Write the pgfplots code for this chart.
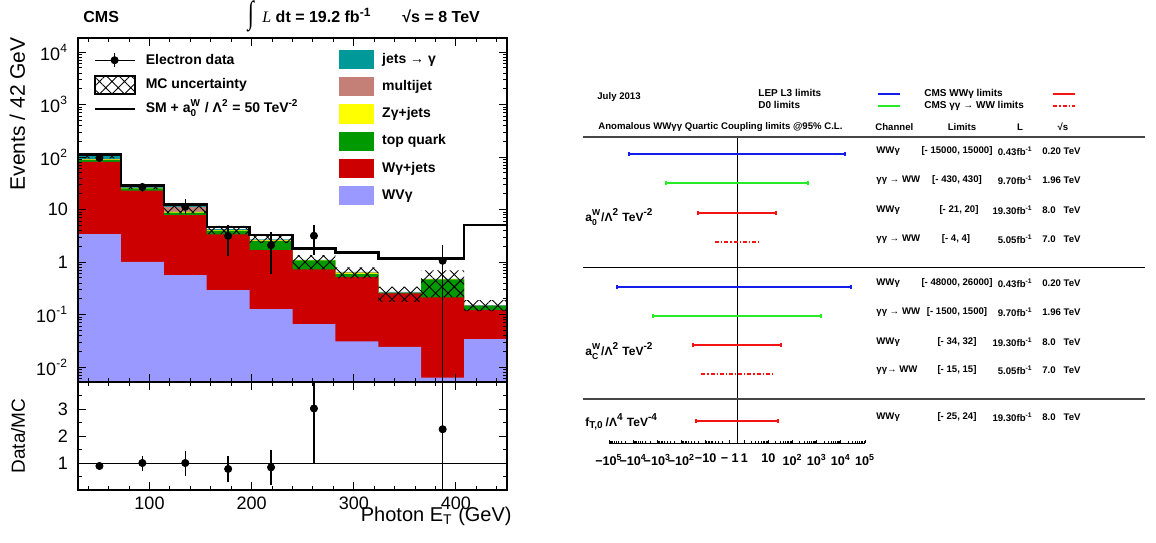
\documentclass[border=0pt]{standalone}
\usepackage{fontspec}
\setmainfont{Liberation Sans}
\newfontfamily\serif{Liberation Serif}
\usepackage{pgfplots}
\pgfplotsset{compat=1.18}
\usepackage{pgfplotstable}
\usetikzlibrary{patterns.meta}

\newcommand\fs[1]{\fontsize{#1}{#1}\selectfont}
% a with stacked W superscript and subscript, script size as optional argument
\newcommand\aW[2][5]{a$^{\mbox{\fs{#1}W}}_{\mbox{\fs{#1}#2}}$}

\definecolor{cjet}{RGB}{0,153,153}
\definecolor{cmj}{RGB}{196,128,118}
\definecolor{czg}{RGB}{255,255,0}
\definecolor{ctop}{RGB}{0,153,0}
\definecolor{cwg}{RGB}{204,0,0}
\definecolor{cwv}{RGB}{153,153,255}
\definecolor{lblue}{RGB}{20,30,235}
\definecolor{lgreen}{RGB}{40,235,40}
\definecolor{lred}{RGB}{245,20,20}

\tikzset{
  xhatch/.style={pattern={Hatch[angle=45,distance=4.4pt,line width=0.45pt]}},
}
\pgfplotsset{
  boxkey/.style={legend image code/.code={\fill[##1] (0pt,-4.75pt) rectangle (17.5pt,4.75pt);}},
  keyline/.style={legend image code/.code={\draw[##1] (0pt,0pt) -- (11pt,0pt);}},
}

% stacked MC: cumulative tops per bin (left edge); first/last rows close the areas below ymin
\pgfplotstableread{
x    wv     wg    tq    zg    mj    jt
30   0.001  0.001 0.001 0.001 0.001 0.001
30   3.41   81    89    91    92    104
72   1.01   23    25.3  25.8  26.2  27
114  0.565  7.9   8.8   9.1   11.3  11.8
156  0.293  3.37  4.0   4.05  4.1   4.25
198  0.127  1.69  2.5   2.6   2.62  2.7
240  0.066  0.726 1.08  1.09  1.095 1.10
282  0.031  0.52  0.6   0.63  0.635 0.65
324  0.0244 0.253 0.258 0.26  0.262 0.272
366  0.0063 0.213 0.47  0.472 0.474 0.48
408  0.034  0.122 0.145 0.147 0.148 0.152
450  0.034  0.122 0.145 0.147 0.148 0.152
450  0.001  0.001 0.001 0.001 0.001 0.001
}\stack

% SM + a0/Lambda^2 = 50 TeV^-2
\pgfplotstableread{
x    sm
30   112
72   29
114  12.6
156  4.7
198  3.27
240  1.82
282  1.53
324  1.17
366  1.17
408  5.07
450  5.07
}\smline

% MC uncertainty band: upper edge, jump, lower edge (filled even-odd)
\pgfplotstableread{
x    b
30   0.001
30   114
72   29.5
114  13
156  4.9
198  3.25
240  1.36
282  0.79
324  0.34
366  0.70
408  0.189
450  0.189
450  0.001
nan  nan
30   0.001
30   95
72   24.5
114  8.5
156  3.4
198  2.3
240  0.73
282  0.49
324  0.175
366  0.213
408  0.117
450  0.117
450  0.001
}\band

% electron data and data/MC
\pgfplotstableread{
x    y     ep    em      r     rp    rm
51   97    10    10      0.89  0.15  0.15
93   27    5.7   5.1     1.00  0.27  0.28
135  11.3  4.3   3.2     1.00  0.45  0.47
177  3.16  1.9   1.86    0.78  0.49  0.49
219  2.1   1.57  1.5     0.84  0.65  0.64
261  3.18  1.9   1.82    3.02  2.0   2.02
387  1.06  1.04  1.0599  2.25  2.0   2.25
}\data

\begin{document}
\begin{tikzpicture}
\useasboundingbox (0pt,0pt) rectangle (578pt,-271pt);

%% ---------------- upper pad ----------------
\begin{axis}[
  at={(39pt,-19pt)}, anchor=north west, scale only axis,
  width=214.5pt, height=172pt,
  xmin=30, xmax=450, ymode=log, ymin=0.0052, ymax=18600,
  xtick={100,200,300,400}, xticklabels={},
  minor xtick={40,60,80,120,140,160,180,220,240,260,280,320,340,360,380,420,440},
  ytick={0.01,0.1,1,10,100,1000,10000},
  yticklabels={10\textsuperscript{-2},10\textsuperscript{-1},1,10,10\textsuperscript{2},10\textsuperscript{3},10\textsuperscript{4}},
  minor ytick={0.006,0.007,0.008,0.009,0.02,0.03,0.04,0.05,0.06,0.07,0.08,0.09,0.2,0.3,0.4,0.5,0.6,0.7,0.8,0.9,2,3,4,5,6,7,8,9,20,30,40,50,60,70,80,90,200,300,400,500,600,700,800,900,2000,3000,4000,5000,6000,7000,8000,9000},
  tick align=inside, xtick pos=both, ytick pos=both,
  major tick length=4pt, minor tick length=2pt,
  tick style={black, line width=0.5pt},
  axis line style={line width=0.9pt},
  yticklabel style={font=\fs{9}, xshift=-1.5pt},
  axis on top,
  unbounded coords=jump,
  legend style={at={(0.035,0.959)}, anchor=north west, draw=none, fill=none,
    inner sep=0pt, font=\bfseries\fs{7}, row sep=3.6pt, column sep=5pt,
    nodes={inner sep=0pt, text height=5.3pt, text depth=1.5pt}},
  legend cell align=left,
]
\addplot[fill=cjet, draw=none, const plot, forget plot] table[x=x,y=jt] {\stack};
\addplot[fill=cmj,  draw=none, const plot, forget plot] table[x=x,y=mj] {\stack};
\addplot[fill=czg,  draw=none, const plot, forget plot] table[x=x,y=zg] {\stack};
\addplot[fill=ctop, draw=none, const plot, forget plot] table[x=x,y=tq] {\stack};
\addplot[fill=cwg,  draw=none, const plot, forget plot] table[x=x,y=wg] {\stack};
\addplot[fill=cwv,  draw=none, const plot, forget plot] table[x=x,y=wv] {\stack};

\addplot[xhatch, draw=none, even odd rule, const plot, forget plot] table[x=x,y=b] {\band};

\addplot[black, line width=1.2pt, const plot, forget plot] table[x=x,y=sm] {\smline};

\addplot[only marks, mark=*, mark size=1.8pt, black, forget plot,
  error bars/.cd, y dir=both, y explicit, error mark=none,
  error bar style={line width=0.7pt}]
  table[x=x, y=y, y error plus=ep, y error minus=em] {\data};

\addlegendimage{legend image code/.code={
  \draw[black,line width=0.7pt] (0pt,0pt) -- (20pt,0pt) (10pt,-3.5pt) -- (10pt,3.5pt);
  \fill[black] (10pt,0pt) circle (1.8pt);}}
\addlegendentry{Electron data}
\addlegendimage{legend image code/.code={
  \path[xhatch] (0pt,-4.5pt) rectangle (20pt,4.5pt);
  \draw[black,line width=0.9pt] (0pt,-4.5pt) rectangle (20pt,4.5pt);}}
\addlegendentry{MC uncertainty}
\addlegendimage{legend image code/.code={\draw[black,line width=1.2pt] (0pt,0pt) -- (20pt,0pt);}}
\addlegendentry{SM + \aW{0} / Λ\textsuperscript{2} = 50 TeV\textsuperscript{-2}}
\end{axis}

% second legend column of the upper pad
\begin{axis}[
  at={(39pt,-19pt)}, anchor=north west, scale only axis,
  width=214.5pt, height=172pt, hide axis,
  xmin=0, xmax=1, ymin=0, ymax=1,
  legend style={at={(0.608,0.966)}, anchor=north west, draw=none, fill=none,
    inner sep=0pt, font=\bfseries\fs{7}, row sep=4.1pt, column sep=4pt,
    nodes={inner sep=0pt, text height=5.3pt, text depth=1.5pt}},
  legend cell align=left,
]
\addlegendimage{fill=cjet, draw=none, boxkey}\addlegendentry{jets → γ}
\addlegendimage{fill=cmj, draw=none, boxkey}\addlegendentry{multijet}
\addlegendimage{fill=czg, draw=none, boxkey}\addlegendentry{Zγ+jets}
\addlegendimage{fill=ctop, draw=none, boxkey}\addlegendentry{top quark}
\addlegendimage{fill=cwg, draw=none, boxkey}\addlegendentry{Wγ+jets}
\addlegendimage{fill=cwv, draw=none, boxkey}\addlegendentry{WVγ}
\end{axis}

%% ---------------- ratio pad ----------------
\begin{axis}[
  at={(39pt,-191pt)}, anchor=north west, scale only axis,
  width=214.5pt, height=54pt,
  xmin=30, xmax=450, ymin=0, ymax=4,
  xtick={100,200,300,400},
  minor xtick={40,60,80,120,140,160,180,220,240,260,280,320,340,360,380,420,440},
  ytick={1,2,3}, minor ytick={0.5,1.5,2.5,3.5},
  tick align=inside, xtick pos=both, ytick pos=both,
  major tick length=4pt, minor tick length=2pt,
  tick style={black, line width=0.5pt},
  axis line style={line width=0.9pt},
  tick label style={font=\fs{9}},
  xticklabel style={yshift=0pt},
  yticklabel style={xshift=-1.5pt},
  /pgf/number format/assume math mode=true,
  axis on top,
]
\addplot[black, line width=0.5pt, forget plot] coordinates {(30,1) (450,1)};
\addplot[only marks, mark=*, mark size=1.8pt, black,
  error bars/.cd, y dir=both, y explicit, error mark=none,
  error bar style={line width=0.7pt}]
  table[x=x, y=r, y error plus=rp, y error minus=rm] {\data};
\end{axis}

%% ---------------- limits panel ----------------
\begin{axis}[
  at={(304.5pt,-221.5pt)}, anchor=south west, scale only axis,
  width=128pt, height=156.5pt,
  x coord trafo/.code={\begingroup
    \pgfkeys{/pgf/fpu=true,/pgf/fpu/output format=fixed}%
    \pgfmathparse{((#1)==0) ? 0 : ((((#1)<0) ? -1 : 1)*ln(2*abs(#1)+1e-9)/ln(10))}%
    \pgfmathsmuggle\pgfmathresult\endgroup},
  xmin=-100000, xmax=100000, ymin=-443, ymax=-130,
  axis x line=bottom, axis y line=none, x axis line style={-, line width=0.5pt},
  xtick={-100000,-10000,-1000,-100,-10,-1,1,10,100,1000,10000,100000},
  xticklabels={−10\textsuperscript{5},−10\textsuperscript{4},−10\textsuperscript{3},−10\textsuperscript{2},−10,− 1,1,10,10\textsuperscript{2},10\textsuperscript{3},10\textsuperscript{4},10\textsuperscript{5}},
  minor xtick={-90000,-80000,-70000,-60000,-50000,-40000,-30000,-20000,
    -9000,-8000,-7000,-6000,-5000,-4000,-3000,-2000,
    -900,-800,-700,-600,-500,-400,-300,-200,
    -90,-80,-70,-60,-50,-40,-30,-20,-9,-8,-7,-6,-5,-4,-3,-2,
    2,3,4,5,6,7,8,9,20,30,40,50,60,70,80,90,
    200,300,400,500,600,700,800,900,2000,3000,4000,5000,6000,7000,8000,9000,
    20000,30000,40000,50000,60000,70000,80000,90000},
  ytick=\empty,
  xtick align=inside, major tick length=1.6pt, minor tick length=0.8pt,
  tick style={black, line width=0.4pt},
  xticklabel style={font=\bfseries\fs{6.3}, yshift=-2pt},
  clip=false,
  legend plot pos=right,
  legend columns=2,
  legend style={at={(0.582,1.132)}, anchor=north west, draw=none, fill=none,
    inner sep=0pt, font=\bfseries\fs{5}, row sep=1.3pt, column sep=0pt,
    nodes={inner sep=0pt, text height=3.7pt, text depth=1pt}},
  legend cell align=left,
]
\addplot[black, line width=0.5pt, forget plot] coordinates {(0,-137) (0,-443)};
% a0W / Lambda^2
\addplot[lblue, line width=1pt, mark=|, mark size=1.2pt, forget plot] coordinates {(-15000,-154) (15000,-154)};
\addplot[lgreen, line width=1pt, mark=|, mark size=1.2pt, forget plot] coordinates {(-430,-183) (430,-183)};
\addplot[lred, line width=1pt, mark=|, mark size=1.2pt, forget plot] coordinates {(-21,-213) (20,-213)};
\addplot[lred, line width=1pt, dash pattern=on 2pt off 1pt on 0.6pt off 1pt, forget plot] coordinates {(-4,-242) (4,-242)};
% aCW / Lambda^2
\addplot[lblue, line width=1pt, mark=|, mark size=1.2pt, forget plot] coordinates {(-48000,-287) (26000,-287)};
\addplot[lgreen, line width=1pt, mark=|, mark size=1.2pt, forget plot] coordinates {(-1500,-316) (1500,-316)};
\addplot[lred, line width=1pt, mark=|, mark size=1.2pt, forget plot] coordinates {(-34,-345) (32,-345)};
\addplot[lred, line width=1pt, dash pattern=on 2pt off 1pt on 0.6pt off 1pt, forget plot] coordinates {(-15,-374) (15,-374)};
% fT0 / Lambda^4
\addplot[lred, line width=1pt, mark=|, mark size=1.2pt, forget plot] coordinates {(-25,-421) (24,-421)};

\addlegendimage{lblue, line width=1pt, keyline}
\addlegendentry{\makebox[59.5pt][l]{LEP L3 limits}}
\addlegendimage{lred, line width=1pt, keyline}
\addlegendentry{\makebox[75.5pt][l]{\hspace*{11.5pt}CMS WWγ limits}}
\addlegendimage{lgreen, line width=1pt, keyline}
\addlegendentry{\makebox[59.5pt][l]{D0 limits}}
\addlegendimage{lred, line width=1pt, dash pattern=on 2pt off 1pt on 0.6pt off 1pt, keyline}
\addlegendentry{\makebox[75.5pt][l]{\hspace*{11.5pt}CMS γγ → WW limits}}
\end{axis}

%% ---------------- texts (reference pixel units) ----------------
\begin{scope}[x=0.5pt, y=-0.5pt]
\node[anchor=base west, font=\bfseries\fs{8}, inner sep=0pt] at (83,22) {CMS};
\node[inner sep=0pt] at (251,16) {\serif\scalebox{1}[1.45]{\fs{11}∫}};
\node[anchor=base west, font=\bfseries\fs{8}, inner sep=0pt] at (262,22) {{\serif\mdseries\itshape L} dt = 19.2 fb\textsuperscript{-1}};
\node[anchor=base west, font=\bfseries\fs{8}, inner sep=0pt] at (402,22) {√s = 8 TeV};

\node[rotate=90, anchor=base east, font=\fs{10.5}, inner sep=0pt] at (25,37) {Events / 42 GeV};
\node[rotate=90, anchor=base, font=\fs{9.5}, inner sep=0pt] at (25,436) {Data/MC};
\node[anchor=base east, font=\fs{10}, inner sep=0pt] at (512,521) {Photon E\textsubscript{T} (GeV)};

\draw[gray!55!black, line width=1pt] (583,137) -- (1145,137);
\draw[black, line width=0.5pt] (583,267) -- (1145,267);
\draw[gray!55!black, line width=1pt] (583,399) -- (1145,399);

\begin{scope}[every node/.style={font=\bfseries\fs{4.8}, inner sep=0pt}]
\node[anchor=west] at (597,97) {July 2013};
\node[anchor=west] at (598,127) {Anomalous WWγγ Quartic Coupling limits @95\% C.L.};
\node[anchor=west] at (875,127) {Channel};
\node at (962,127) {Limits};
\node at (1020,127) {L};
\node at (1063,127) {√s};

\node[anchor=west] at (876,151) {WWγ};
\node[anchor=west] at (876,180) {γγ → WW};
\node[anchor=west] at (876,210) {WWγ};
\node[anchor=west] at (876,239) {γγ → WW};
\node at (957,151) {[- 15000, 15000]};
\node at (957,180) {[- 430, 430]};
\node at (959,210) {[- 21, 20]};
\node at (956,239) {[- 4, 4]};
\node[anchor=east] at (1033,151) {0.43fb\textsuperscript{-1}};
\node[anchor=east] at (1033,180) {9.70fb\textsuperscript{-1}};
\node[anchor=east] at (1033,210) {19.30fb\textsuperscript{-1}};
\node[anchor=east] at (1033,239) {5.05fb\textsuperscript{-1}};
\node[anchor=east] at (1081,151) {0.20 TeV};
\node[anchor=east] at (1081,180) {1.96 TeV};
\node[anchor=east] at (1081,210) {8.0~~~TeV};
\node[anchor=east] at (1081,239) {7.0~~~TeV};

\node[anchor=west] at (876,283) {WWγ};
\node[anchor=west] at (876,312) {γγ → WW};
\node[anchor=west] at (876,342) {WWγ};
\node[anchor=west] at (876,370) {γγ→ WW};
\node at (957,283) {[- 48000, 26000]};
\node at (957,312) {[- 1500, 1500]};
\node at (957,342) {[- 34, 32]};
\node at (957,370) {[- 15, 15]};
\node[anchor=east] at (1033,283) {0.43fb\textsuperscript{-1}};
\node[anchor=east] at (1033,312) {9.70fb\textsuperscript{-1}};
\node[anchor=east] at (1033,342) {19.30fb\textsuperscript{-1}};
\node[anchor=east] at (1033,370) {5.05fb\textsuperscript{-1}};
\node[anchor=east] at (1081,283) {0.20 TeV};
\node[anchor=east] at (1081,312) {1.96 TeV};
\node[anchor=east] at (1081,342) {8.0~~~TeV};
\node[anchor=east] at (1081,370) {7.0~~~TeV};

\node[anchor=west] at (876,417) {WWγ};
\node at (957,417) {[- 25, 24]};
\node[anchor=east] at (1033,417) {19.30fb\textsuperscript{-1}};
\node[anchor=east] at (1081,417) {8.0~~~TeV};
\end{scope}

\begin{scope}[every node/.style={font=\bfseries\fs{6}, inner sep=0pt, anchor=base west}]
\node at (585,221) {\aW[4.3]{0}/Λ\textsuperscript{2} TeV\textsuperscript{-2}};
\node at (585,355) {\aW[4.3]{C}/Λ\textsuperscript{2} TeV\textsuperscript{-2}};
\node at (585,426) {f\textsubscript{T,0}\,/Λ\textsuperscript{4} TeV\textsuperscript{-4}};
\end{scope}
\end{scope}
\end{tikzpicture}
\end{document}
